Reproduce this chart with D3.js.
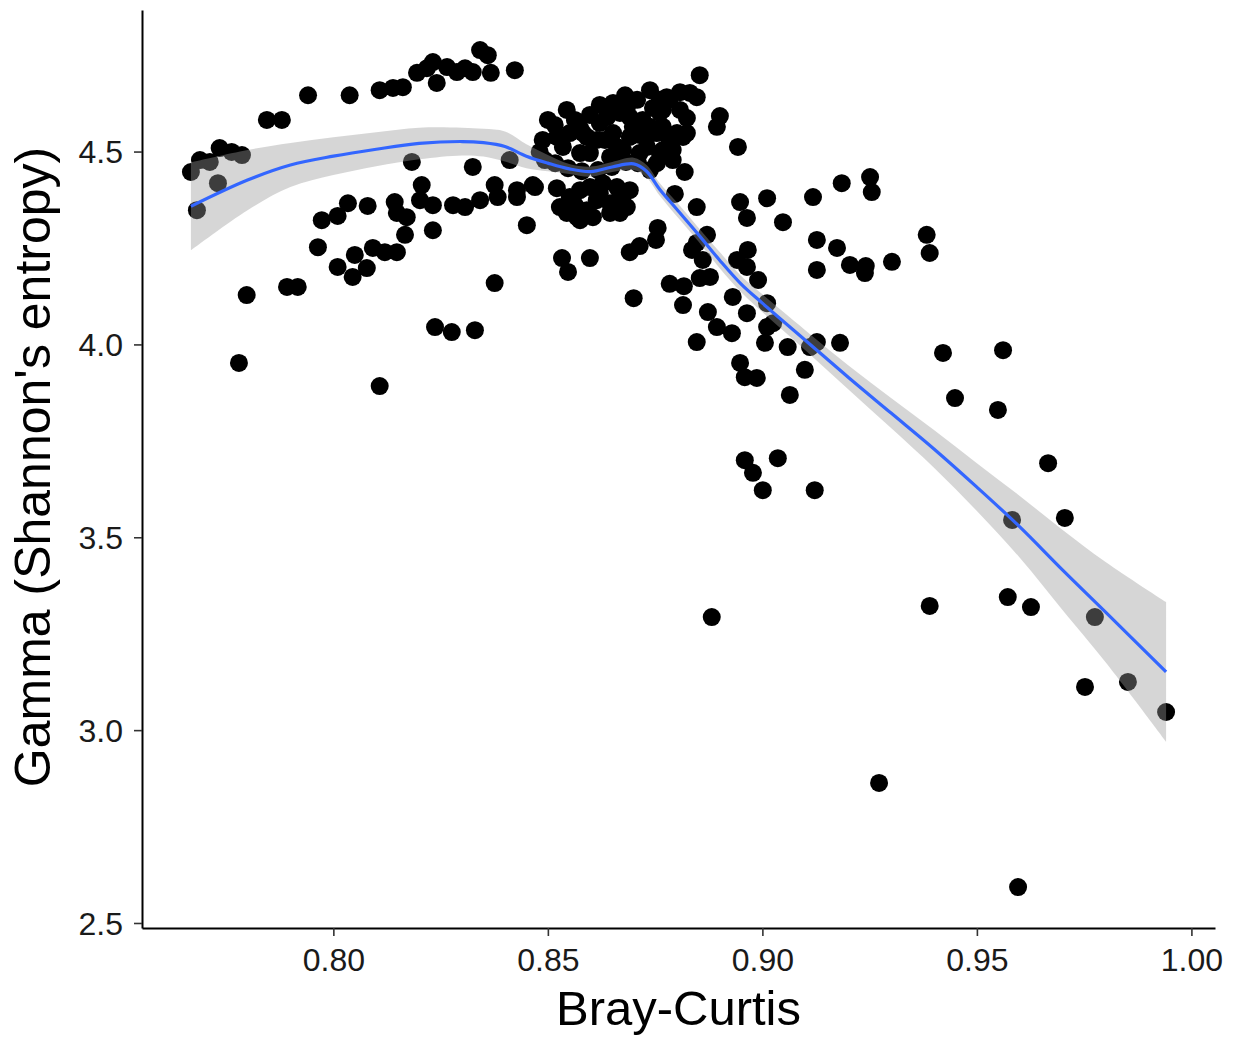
<!DOCTYPE html>
<html>
<head>
<meta charset="utf-8">
<script src="https://cdn.jsdelivr.net/npm/d3@7"></script>
<style>
  html, body { margin: 0; padding: 0; background: #fff; }
  svg { display: block; }
</style>
</head>
<body>
<svg id="chart" width="1244" height="1040"></svg>
<script>
// ---- Data ----
const xTicks = [0.80, 0.85, 0.90, 0.95, 1.00];
const yTicks = [2.5, 3.0, 3.5, 4.0, 4.5];
const xLabel = "Bray-Curtis";
const yLabel = "Gamma (Shannon's entropy)";

// Observed points: Bray-Curtis (x) and Gamma (y)
const brayCurtis = [
  0.7668,0.7689,0.7712,0.7735,0.7763,0.7787,0.7731,0.7682,0.7845,0.7880,
  0.7941,0.8038,0.8108,0.8139,0.8162,0.8195,0.8218,0.8232,0.8241,0.8265,
  0.8288,0.8307,0.8325,0.8342,0.8360,0.8367,0.8423,0.8183,0.8325,0.8411,
  0.7780,0.7798,0.7892,0.7917,0.7964,0.7973,0.8010,0.8034,0.8080,0.8143,
  0.8148,0.8171,0.8167,0.8010,0.8050,0.8045,0.8078,0.8092,0.8120,0.8148,
  0.8108,0.8206,0.8202,0.8232,0.8232,0.8279,0.8307,0.8342,0.8376,0.8383,
  0.8428,0.8428,0.8465,0.8451,0.8376,0.8237,0.8276,0.8330,
  0.8500,0.8544,0.8488,0.8521,0.8551,0.8575,0.8591,0.8621,0.8638,0.8652,
  0.8684,0.8708,0.8698,0.8721,0.8745,0.8761,0.8777,0.8808,0.8831,0.8847,
  0.8824,0.8824,0.8791,0.8761,0.8754,0.8731,0.8661,0.8614,0.8535,0.8768,
  0.8808,0.8668,0.8691,0.8582,0.8575,0.8652,0.8691,0.8731,0.8768,0.8801,
  0.8815,0.8768,0.8791,0.8754,0.8714,0.8675,0.8645,0.8598,0.8854,0.8901,
  0.8894,0.8943,0.8819,0.8738,0.8761,0.8784,
  0.8528,0.8551,0.8575,0.8598,0.8628,0.8661,0.8691,0.8675,0.8645,0.8614,
  0.8591,0.8568,0.8544,0.8605,0.8645,0.8521,0.8470,0.8575,
  0.8796,0.8847,0.8684,0.8668,0.8756,0.8752,0.8714,0.8691,0.8533,0.8547,
  0.8598,0.8700,0.8784,0.8817,0.8815,0.8836,0.8847,0.8871,0.8861,0.8854,
  0.8878,0.8948,0.8964,0.9011,0.9048,0.9118,0.9185,0.9255,0.9251,
  0.8966,0.8941,0.8964,0.8990,0.8931,0.8964,0.9011,0.8873,0.8894,0.8929,
  0.8847,0.9025,0.9011,0.9006,0.9059,0.8948,0.8959,0.8987,0.9099,0.9064,
  0.9127,0.9111,0.9181,0.9127,0.9174,0.9127,0.9204,0.9241,0.9239,0.9302,
  0.9383,0.9390,0.8959,0.8978,0.9001,0.9036,0.9122,0.8882,0.9421,0.9561,
  0.9449,0.9549,0.9666,0.9705,0.9582,0.9390,0.9572,0.9626,0.9775,0.9752,
  0.9852,0.9941,0.9272,0.9596,
  0.8493,0.8517,0.8547,0.8579,0.8617,0.8649,0.8682,0.8710,0.8738,0.8481,
  0.8563,0.8598,0.8621,0.8680,0.8738,0.8633,0.8714,0.8784,0.8516,0.8621,
  0.8563,0.8668
];
const gamma = [
  4.447,4.478,4.473,4.509,4.499,4.491,4.418,4.348,4.582,4.582,
  4.646,4.646,4.659,4.665,4.667,4.704,4.716,4.732,4.678,4.719,
  4.706,4.716,4.706,4.763,4.750,4.704,4.711,4.473,4.460,4.478,
  3.952,4.128,4.149,4.149,4.252,4.322,4.333,4.366,4.359,4.369,
  4.341,4.330,4.284,4.201,4.232,4.175,4.198,4.250,4.239,4.239,
  3.892,4.413,4.374,4.361,4.296,4.361,4.356,4.374,4.413,4.382,
  4.400,4.382,4.413,4.309,4.159,4.045,4.032,4.037,
  4.582,4.608,4.530,4.538,4.548,4.561,4.538,4.574,4.589,4.626,
  4.613,4.634,4.564,4.582,4.613,4.634,4.641,4.654,4.652,4.641,
  4.587,4.548,4.504,4.496,4.548,4.512,4.512,4.530,4.512,4.608,
  4.608,4.600,4.589,4.548,4.496,4.548,4.538,4.538,4.564,4.548,
  4.538,4.504,4.478,4.470,4.496,4.504,4.486,4.496,4.698,4.592,
  4.564,4.512,4.447,4.564,4.600,4.634,
  4.356,4.382,4.400,4.408,4.418,4.408,4.400,4.366,4.366,4.374,
  4.348,4.330,4.341,4.330,4.341,4.405,4.408,4.322,
  4.390,4.356,4.356,4.341,4.302,4.271,4.255,4.239,4.224,4.188,
  4.224,4.120,4.157,4.151,4.102,4.245,4.263,4.284,4.219,4.172,
  4.175,4.369,4.328,4.379,4.317,4.382,4.418,4.395,4.434,
  4.245,4.219,4.201,4.167,4.123,4.081,4.107,4.084,4.045,4.029,
  4.006,4.055,4.045,4.004,3.993,3.952,3.915,3.913,3.934,3.869,
  4.006,3.993,4.004,4.271,4.250,4.193,4.206,4.203,4.185,4.214,
  4.284,4.237,3.700,3.667,3.622,3.705,3.622,3.293,3.978,3.985,
  3.861,3.830,3.692,3.550,3.545,3.322,3.345,3.319,3.293,3.112,
  3.125,3.047,2.863,2.593,
  4.478,4.470,4.457,4.449,4.452,4.460,4.473,4.470,4.452,4.499,
  4.582,4.595,4.621,4.646,4.659,4.530,4.543,4.530,4.569,4.392,
  4.361,4.382
];

// Loess smoother: fit and standard-error half width
const smoothX  = [0.7668,0.78,0.79,0.80,0.81,0.82,0.83,0.835,0.84,0.845,0.85,0.855,0.86,0.865,0.87,0.873,0.876,0.88,0.885,0.89,0.895,0.90,0.91,0.92,0.93,0.94,0.95,0.96,0.97,0.98,0.9941];
const smoothY  = [4.358,4.426,4.465,4.488,4.506,4.521,4.526,4.523,4.513,4.488,4.470,4.455,4.448,4.460,4.468,4.449,4.403,4.351,4.286,4.219,4.157,4.107,4.011,3.915,3.822,3.729,3.630,3.527,3.415,3.306,3.151];
const smoothSE = [0.114,0.078,0.057,0.049,0.044,0.041,0.036,0.036,0.039,0.031,0.021,0.013,0.013,0.013,0.016,0.016,0.016,0.018,0.018,0.021,0.021,0.023,0.026,0.031,0.039,0.049,0.062,0.080,0.104,0.130,0.181];

// ---- Layout ----
const svg = d3.select("#chart");
const mLeft = 142, mRight = 1215, mTop = 10, mBottom = 928;

const x = d3.scaleLinear().domain([0.7554, 1.0055]).range([mLeft, mRight]);
const y = d3.scaleLinear().domain([2.487, 4.867]).range([mBottom, mTop]);

const nPts = Math.min(brayCurtis.length, gamma.length);
const points = brayCurtis.slice(0, nPts).map((d, i) => ({ x: d, y: gamma[i] }));
const smooth = smoothX.map((d, i) => ({ x: d, y: smoothY[i], se: smoothSE[i] }));

// points
svg.append("g")
  .selectAll("circle")
  .data(points)
  .join("circle")
  .attr("cx", d => x(d.x))
  .attr("cy", d => y(d.y))
  .attr("r", 9)
  .attr("fill", "#000");

// ribbon
const area = d3.area()
  .x(d => x(d.x))
  .y0(d => y(d.y - d.se))
  .y1(d => y(d.y + d.se))
  .curve(d3.curveCatmullRom);
svg.append("path")
  .datum(smooth)
  .attr("d", area)
  .attr("fill", "#999999")
  .attr("fill-opacity", 0.4);

// line
const line = d3.line()
  .x(d => x(d.x))
  .y(d => y(d.y))
  .curve(d3.curveCatmullRom);
svg.append("path")
  .datum(smooth)
  .attr("d", line)
  .attr("fill", "none")
  .attr("stroke", "#3366FF")
  .attr("stroke-width", 3.2);

// axes
const font = "'Liberation Sans', Arial, Helvetica, sans-serif";

const xAxis = svg.append("g")
  .attr("transform", `translate(0,${mBottom})`)
  .call(d3.axisBottom(x).tickValues(xTicks).tickFormat(d3.format(".2f")).tickSize(8).tickSizeOuter(0));
const yAxis = svg.append("g")
  .attr("transform", `translate(${mLeft},0)`)
  .call(d3.axisLeft(y).tickValues(yTicks).tickFormat(d3.format(".1f")).tickSize(8).tickSizeOuter(0));

[xAxis, yAxis].forEach(g => {
  g.select(".domain").attr("stroke", "#000").attr("stroke-width", 2);
  g.selectAll(".tick line").attr("stroke", "#333").attr("stroke-width", 1.6);
  g.selectAll(".tick text")
    .attr("fill", "#1a1a1a")
    .style("font-family", font)
    .style("font-size", "32px");
});
xAxis.selectAll(".tick text").attr("dy", null).attr("y", 43);
yAxis.selectAll(".tick text").attr("x", -19).attr("dy", "0.35em");

// axis titles
svg.append("text")
  .attr("x", (mLeft + mRight) / 2)
  .attr("y", 1025)
  .attr("text-anchor", "middle")
  .style("font-family", font)
  .style("font-size", "49px")
  .attr("fill", "#000")
  .text(xLabel);

svg.append("text")
  .attr("transform", `translate(50,${(mTop + mBottom) / 2 - 2}) rotate(-90)`)
  .attr("text-anchor", "middle")
  .style("font-family", font)
  .style("font-size", "50px")
  .attr("fill", "#000")
  .text(yLabel);
</script>
</body>
</html>
